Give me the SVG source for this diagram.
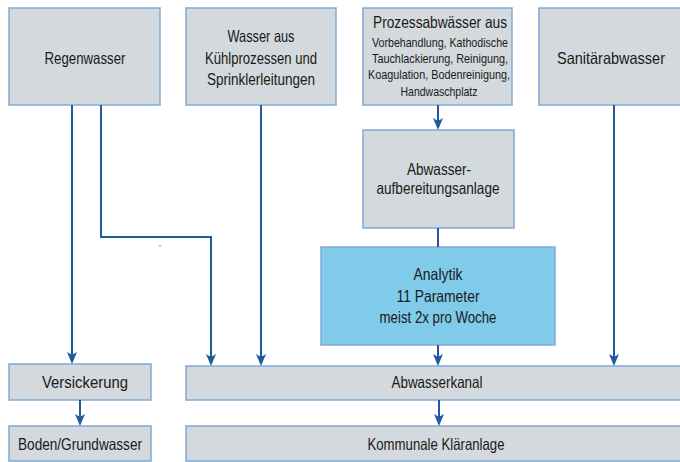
<svg xmlns="http://www.w3.org/2000/svg" width="680" height="462" viewBox="0 0 680 462">
<style>
.box{fill:#d3d9dc;stroke:#80a9d6;stroke-width:1.5}
.blue{fill:#80caea;stroke:#80a9d6;stroke-width:1.5}
text{font-family:"Liberation Sans","DejaVu Sans",sans-serif;fill:#1a1a1a;text-anchor:middle}
.t{font-size:16.5px}
.s{font-size:13px}
.c{fill:none;stroke:#1f5c9e;stroke-width:2}
</style>
<defs>
<marker id="ah" viewBox="0 0 12 10" refX="8" refY="5" markerWidth="12" markerHeight="10" markerUnits="userSpaceOnUse" orient="auto">
<path d="M0,0 L12,5 L0,10 L3,5 z" fill="#1f5c9e"/>
</marker>
</defs>
<rect width="680" height="462" fill="#ffffff"/>
<g id="regenwasser">
<rect class="box" x="9" y="8" width="151" height="97"/>
<text class="t" x="85" y="64" textLength="81" lengthAdjust="spacingAndGlyphs">Regenwasser</text>
</g>
<g id="wasser-aus">
<rect class="box" x="186" y="8" width="150" height="97"/>
<text class="t" x="261" y="42" textLength="67" lengthAdjust="spacingAndGlyphs">Wasser aus</text>
<text class="t" x="261" y="64" textLength="112" lengthAdjust="spacingAndGlyphs">Kühlprozessen und</text>
<text class="t" x="261" y="85" textLength="108" lengthAdjust="spacingAndGlyphs">Sprinklerleitungen</text>
</g>
<g id="prozessabwaesser">
<rect class="box" x="363" y="8" width="149" height="97"/>
<text class="t" x="440" y="28" textLength="134" lengthAdjust="spacingAndGlyphs">Prozessabwässer aus</text>
<text class="s" x="440" y="47" textLength="136" lengthAdjust="spacingAndGlyphs">Vorbehandlung, Kathodische</text>
<text class="s" x="440" y="63" textLength="136" lengthAdjust="spacingAndGlyphs">Tauchlackierung, Reinigung,</text>
<text class="s" x="439" y="79" textLength="142" lengthAdjust="spacingAndGlyphs">Koagulation, Bodenreinigung,</text>
<text class="s" x="439" y="96" textLength="77" lengthAdjust="spacingAndGlyphs">Handwaschplatz</text>
</g>
<g id="sanitaerabwasser">
<rect class="box" x="539" y="8" width="145" height="97"/>
<text class="t" x="611" y="64" textLength="108" lengthAdjust="spacingAndGlyphs">Sanitärabwasser</text>
</g>
<g id="abwasseraufbereitungsanlage">
<rect class="box" x="363" y="130" width="151" height="98"/>
<text class="t" x="439" y="175" textLength="64" lengthAdjust="spacingAndGlyphs">Abwasser-</text>
<text class="t" x="438" y="194" textLength="123" lengthAdjust="spacingAndGlyphs">aufbereitungsanlage</text>
</g>
<g id="analytik">
<rect class="blue" x="321" y="247" width="234" height="98"/>
<text class="t" x="438" y="280" textLength="49" lengthAdjust="spacingAndGlyphs">Analytik</text>
<text class="t" x="438" y="302" textLength="83" lengthAdjust="spacingAndGlyphs">11 Parameter</text>
<text class="t" x="438" y="323" textLength="117" lengthAdjust="spacingAndGlyphs">meist 2x pro Woche</text>
</g>
<g id="versickerung">
<rect class="box" x="9" y="364" width="142" height="36"/>
<text class="t" x="85" y="388" textLength="86" lengthAdjust="spacingAndGlyphs">Versickerung</text>
</g>
<g id="boden-grundwasser">
<rect class="box" x="9" y="426" width="142" height="35"/>
<text class="t" x="80" y="450" textLength="124" lengthAdjust="spacingAndGlyphs">Boden/Grundwasser</text>
</g>
<g id="abwasserkanal">
<rect class="box" x="186" y="366" width="500" height="34"/>
<text class="t" x="437" y="388" textLength="91" lengthAdjust="spacingAndGlyphs">Abwasserkanal</text>
</g>
<g id="kommunale-klaeranlage">
<rect class="box" x="186" y="426" width="500" height="35"/>
<text class="t" x="436" y="450" textLength="137" lengthAdjust="spacingAndGlyphs">Kommunale Kläranlage</text>
</g>
<g id="connectors">
<path class="c" d="M72,105 V360" marker-end="url(#ah)"/>
<path class="c" d="M101,105 V237 H211 V362" marker-end="url(#ah)"/>
<path class="c" d="M261,105 V362" marker-end="url(#ah)"/>
<path class="c" d="M438,105 V126" marker-end="url(#ah)"/>
<path class="c" d="M438,228 V247"/>
<path class="c" d="M438,345 V362" marker-end="url(#ah)"/>
<path class="c" d="M614,105 V362" marker-end="url(#ah)"/>
<path class="c" d="M80,400 V422" marker-end="url(#ah)"/>
<path class="c" d="M439,400 V422" marker-end="url(#ah)"/>
</g>
<circle cx="160" cy="246" r="1.2" fill="#c8c8c8"/>
</svg>
